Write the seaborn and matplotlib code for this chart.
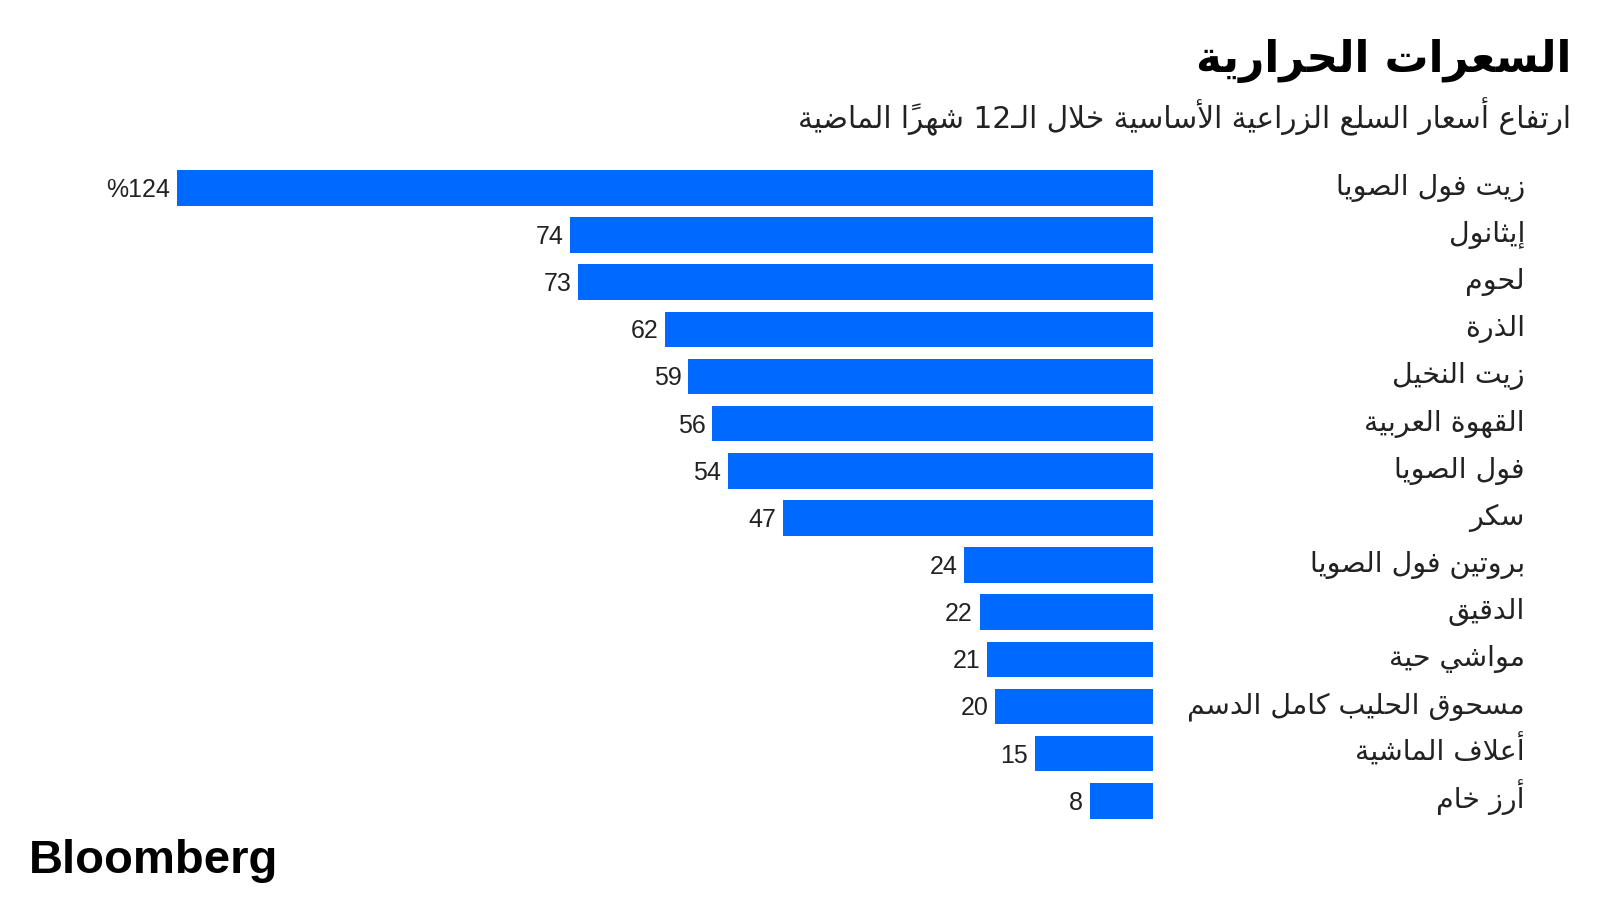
import matplotlib
matplotlib.use("Agg")
import matplotlib.pyplot as plt
import matplotlib.transforms as mtransforms
import seaborn as sns
import pandas as pd

# ---------------- data ----------------
title = "السعرات الحرارية"
subtitle = "ارتفاع أسعار السلع الزراعية الأساسية خلال الـ12 شهراً الماضية"
categories = [
    "زيت فول الصويا",
    "إيثانول",
    "لحوم",
    "الذرة",
    "زيت النخيل",
    "القهوة العربية",
    "فول الصويا",
    "سكر",
    "بروتين فول الصويا",
    "الدقيق",
    "مواشي حية",
    "مسحوق الحليب كامل الدسم",
    "أعلاف الماشية",
    "أرز خام",
]
values = [124, 74, 73, 62, 59, 56, 54, 47, 24, 22, 21, 20, 15, 8]
value_labels = ["%124", "74", "73", "62", "59", "56", "54", "47", "24", "22", "21", "20", "15", "8"]
source = "Bloomberg"

# ---------------- minimal Arabic shaping (contextual forms + RTL order) ----------------
DUAL = {'\u0626': 0xFE89, '\u0628': 0xFE8F, '\u062A': 0xFE95, '\u062B': 0xFE99, '\u062C': 0xFE9D,
        '\u062D': 0xFEA1, '\u062E': 0xFEA5, '\u0633': 0xFEB1, '\u0634': 0xFEB5, '\u0635': 0xFEB9,
        '\u0636': 0xFEBD, '\u0637': 0xFEC1, '\u0638': 0xFEC5, '\u0639': 0xFEC9, '\u063A': 0xFECD,
        '\u0641': 0xFED1, '\u0642': 0xFED5, '\u0643': 0xFED9, '\u0644': 0xFEDD, '\u0645': 0xFEE1,
        '\u0646': 0xFEE5, '\u0647': 0xFEE9, '\u064A': 0xFEF1}
RIGHT = {'\u0622': 0xFE81, '\u0623': 0xFE83, '\u0624': 0xFE85, '\u0625': 0xFE87, '\u0627': 0xFE8D,
         '\u0629': 0xFE93, '\u062F': 0xFEA9, '\u0630': 0xFEAB, '\u0631': 0xFEAD, '\u0632': 0xFEAF,
         '\u0648': 0xFEED, '\u0649': 0xFEEF}
LAMALEF = {'\u0622': 0xFEF5, '\u0623': 0xFEF7, '\u0625': 0xFEF9, '\u0627': 0xFEFB}
TATWEEL = '\u0640'


def _is_mark(ch):
    o = ord(ch)
    return 0x064B <= o <= 0x065F or o == 0x0670


def _jtype(c):
    if c.startswith('LA'):
        return 'R'
    if c in DUAL or c == TATWEEL:
        return 'D'
    if c in RIGHT:
        return 'R'
    return None


def ar(text):
    units = []
    for ch in text:
        if _is_mark(ch) and units:
            units[-1][1] += ch
        else:
            units.append([ch, ''])
    merged = []
    i = 0
    while i < len(units):
        c, m = units[i]
        if c == '\u0644' and i + 1 < len(units) and units[i + 1][0] in LAMALEF:
            merged.append(['LA' + units[i + 1][0], m + units[i + 1][1]])
            i += 2
        else:
            merged.append([c, m])
            i += 1
    out = []
    for i, (c, m) in enumerate(merged):
        t = _jtype(c)
        prev = _jtype(merged[i - 1][0]) if i > 0 else None
        nxt = _jtype(merged[i + 1][0]) if i + 1 < len(merged) else None
        jp = t is not None and prev == 'D'
        jn = t == 'D' and nxt is not None
        if c.startswith('LA'):
            g = chr(LAMALEF[c[2]] + (1 if jp else 0))
        elif c in DUAL:
            g = chr(DUAL[c] + (3 if (jp and jn) else 1 if jp else 2 if jn else 0))
        elif c in RIGHT:
            g = chr(RIGHT[c] + (1 if jp else 0))
        else:
            g = c
        out.append(g + m)
    clusters = []
    for g in out:
        if clusters and g.isascii() and g.isdigit() and clusters[-1].isascii() and clusters[-1].isdigit():
            clusters[-1] += g
        else:
            clusters.append(g)
    return ''.join(reversed(clusters))


# ---------------- figure ----------------
sns.set_theme(style="white")
plt.rcParams['font.family'] = ['DejaVu Sans']

W, H = 1600, 900
fig = plt.figure(figsize=(16, 9), dpi=100)
fig.patch.set_facecolor("white")

bar_right_px = 1152.7
px_per_unit = 7.87
axes_top_px = 164.3
row_px = 47.15
n = len(categories)
ax = fig.add_axes([0, 1 - (axes_top_px + n * row_px) / H, bar_right_px / W, n * row_px / H])

df = pd.DataFrame({"category": categories, "value": values})
sns.barplot(data=df, x="value", y="category", orient="h", color="#0069FF",
            width=0.755, saturation=1, ax=ax)
for p in ax.patches:
    p.set_edgecolor("none")

ax.set_xlim(bar_right_px / px_per_unit, 0)
ax.set_ylim(n - 0.5, -0.5)
ax.set_xlabel("")
ax.set_ylabel("")
ax.set_xticks([])
ax.set_yticks([])
for s in ax.spines.values():
    s.set_visible(False)
ax.set_facecolor("none")

# value labels
for i, (v, lab) in enumerate(zip(values, value_labels)):
    ax.annotate(lab, xy=(v, i), xytext=(-4.8, -6.4), textcoords="offset points",
                ha="right", va="baseline", fontsize=18, color="#222222",
                family=["Liberation Sans", "DejaVu Sans"])

# category labels (right side)
trans = mtransforms.blended_transform_factory(fig.transFigure, ax.transData)
offset = mtransforms.ScaledTranslation(0, -7 / 100, fig.dpi_scale_trans)
for i, c in enumerate(categories):
    ax.text(1525 / W, i, ar(c), transform=trans + offset, ha="right", va="baseline",
            fontsize=20.5, color="#222222")

# title / subtitle
fig.text(1571 / W, 1 - 72 / H, ar(title), ha="right", va="baseline", fontsize=31.5,
         fontweight="bold", color="black")
fig.text(1571 / W, 1 - 128 / H, ar(subtitle), ha="right", va="baseline", fontsize=21.3,
         color="#222222")

# source logo
fig.text(29 / W, 1 - 873 / H, source, ha="left", va="baseline", fontsize=34,
         fontweight="bold", color="black", family=["Liberation Sans", "DejaVu Sans"])

fig.savefig("out.png", dpi=100, facecolor="white")
